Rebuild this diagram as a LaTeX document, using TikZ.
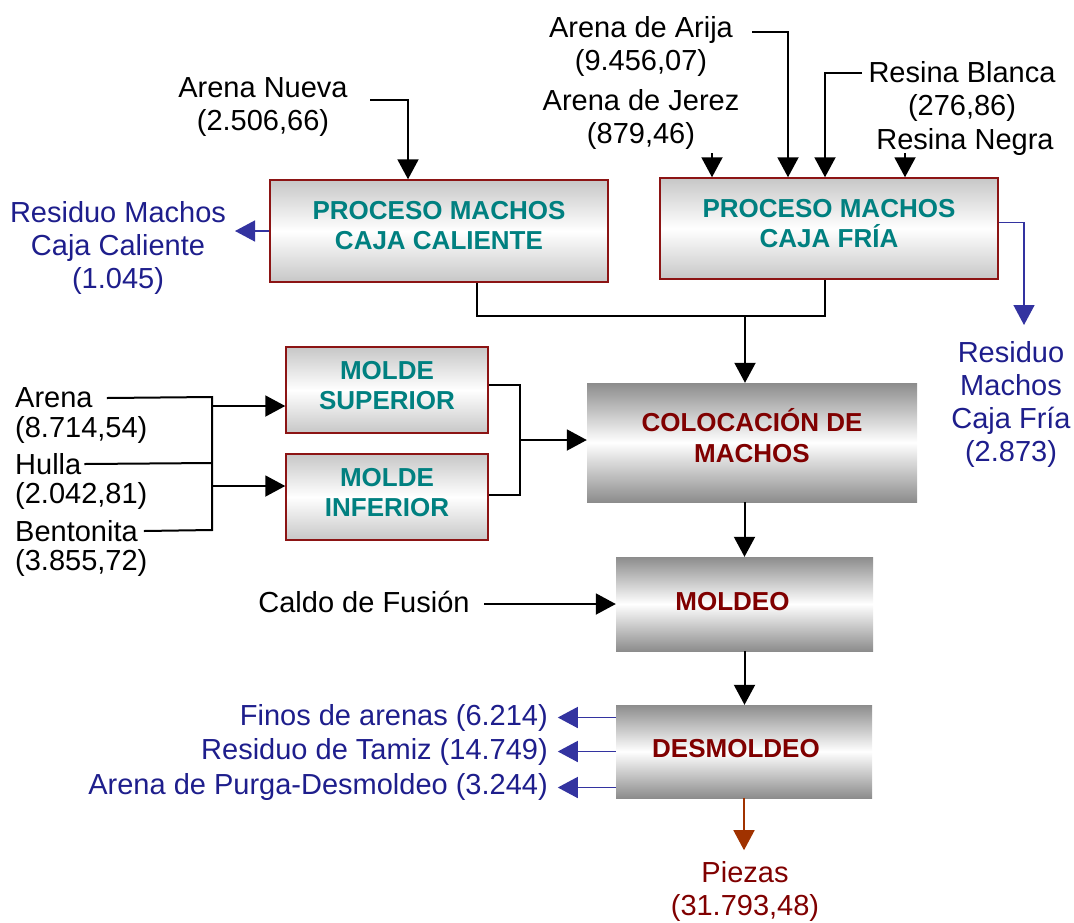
\documentclass[tikz,border=0pt]{standalone}
\usepackage{fontspec}
\setmainfont{Liberation Sans}
\usetikzlibrary{arrows.meta}
\definecolor{boxred}{RGB}{140,20,20}
\definecolor{tealtxt}{RGB}{0,128,128}
\definecolor{redtxt}{RGB}{128,0,0}
\definecolor{bluetxt}{RGB}{30,30,140}
\definecolor{bluearr}{RGB}{51,51,160}
\definecolor{brownarr}{RGB}{160,50,0}
\tikzset{
  lbl/.style={inner sep=0pt, align=center, font=\fontsize{29}{33}\selectfont},
  bluelbl/.style={lbl, text=bluetxt},
  procbox/.style={draw=boxred, line width=1.5pt, inner sep=0pt,
    top color=black!22, bottom color=black!22, middle color=white},
  mainbox/.style={draw=none, inner sep=0pt,
    top color=black!45, bottom color=black!45, middle color=white},
  proctext/.style={inner sep=0pt, align=center, font=\bfseries\fontsize{26}{30}\selectfont, text=tealtxt},
  maintext/.style={inner sep=0pt, align=center, font=\bfseries\fontsize{26}{31}\selectfont, text=redtxt},
  tip/.style={-{Triangle[length=20pt,width=21pt]}},
  arr/.style={line width=2pt, tip},
  ln/.style={line width=2pt},
  barr/.style={line width=1.5pt, tip, color=bluearr},
  brarr/.style={line width=1.5pt, tip, color=brownarr},
}
\begin{document}
\begin{tikzpicture}[x=1pt,y=-1pt]
\useasboundingbox (0,0) rectangle (1074,922);
% boxes
\node[procbox, minimum width=338pt, minimum height=102pt] (cc) at (439,231) {};
\node[procbox, minimum width=338pt, minimum height=101pt] (cf) at (829,228.5) {};
\node[procbox, minimum width=202pt, minimum height=86pt] (ms) at (387,390) {};
\node[procbox, minimum width=202pt, minimum height=86pt] (mi) at (387,497) {};
\node[mainbox, minimum width=330pt, minimum height=119pt] (col) at (752,442.5) {};
\node[mainbox, minimum width=257pt, minimum height=94pt] (mol) at (744.5,604) {};
\node[mainbox, minimum width=256pt, minimum height=93pt] (des) at (744,751.5) {};
% box texts
\node[proctext] (ccT) at ([yshift=5pt]cc.center) {PROCESO MACHOS\\CAJA CALIENTE};
\node[proctext] (cfT) at ([yshift=4.5pt]cf.center) {PROCESO MACHOS\\CAJA FRÍA};
\node[proctext] (msT) at ([yshift=4.5pt]ms.center) {MOLDE\\SUPERIOR};
\node[proctext] (miT) at ([yshift=4.5pt]mi.center) {MOLDE\\INFERIOR};
\node[maintext] (colT) at ([yshift=7pt]col.center) {COLOCACIÓN DE\\MACHOS};
\node[maintext] (molT) at ([xshift=-12pt,yshift=2.5pt]mol.center) {MOLDEO};
\node[maintext] (desT) at ([xshift=-8pt,yshift=3pt]des.center) {DESMOLDEO};
% labels
\node[lbl] (an) at (263,107) {Arena Nueva\\(2.506,66)};
\node[bluelbl] (rcc) at (118,248) {Residuo Machos\\Caja Caliente\\(1.045)};
\node[lbl] (aa) at (641,46) {Arena de Arija\\(9.456,07)};
\node[lbl] (aj) at (641,119) {Arena de Jerez\\(879,46)};
\node[lbl] (rb) at (962,91) {Resina Blanca\\(276,86)};
\node[lbl] (rn) at (965,142) {Resina Negra};
\node[bluelbl] (rcf) at (1011,404) {Residuo\\Machos\\Caja Fría\\(2.873)};
\node[lbl, anchor=west] (ar) at (15,398) {Arena};
\node[lbl, anchor=west] (arq) at (15,430) {(8.714,54)};
\node[lbl, anchor=west] (hu) at (15,464) {Hulla};
\node[lbl, anchor=west] (huq) at (15,496) {(2.042,81)};
\node[lbl, anchor=west] (be) at (15,531) {Bentonita};
\node[lbl, anchor=west] (beq) at (15,563) {(3.855,72)};
\node[lbl] (cd) at (364,602) {Caldo de Fusión};
\node[bluelbl, anchor=east] (fi) at (548,718) {Finos de arenas (6.214)};
\node[bluelbl, anchor=east] (rt) at (548,752) {Residuo de Tamiz (14.749)};
\node[bluelbl, anchor=east] (ap) at (548,787) {Arena de Purga-Desmoldeo (3.244)};
\node[lbl, text=redtxt] (pz) at (745,891) {Piezas\\(31.793,48)};
% coordinates
\coordinate (anS) at (370,100);
\coordinate (aaS) at (752,32);
\coordinate (rbS) at (862,73);
\coordinate (rccE) at (235,231);
\coordinate (rcfE) at (1024,325);
\coordinate (jTop) at (745,316);
\coordinate (jL1) at (212,406);
\coordinate (jL2) at (212,486);
\coordinate (jM) at (520,440);
\coordinate (cdS) at (484,604);
% connectors
\draw[arr] (anS) -| ([xshift=-31]cc.north);
\draw[barr] (cc.west) -- (rccE);
\draw[arr] (aaS) -| ([xshift=-41]cf.north);
\draw[arr] (rbS) -| ([xshift=-4]cf.north);
\draw[arr] ([xshift=-117,yshift=24]cf.north) -- ([xshift=-117]cf.north);
\draw[arr] ([xshift=76,yshift=24]cf.north) -- ([xshift=76]cf.north);
\draw[barr] ([yshift=6]cf.east) -| (rcfE);
\draw[ln] ([xshift=38]cc.south) |- (jTop) -| ([xshift=-4]cf.south);
\draw[arr] (jTop) -- (jTop |- col.north);
\draw[ln] ([xshift=14]ar.east) -- (212,397) -- (212,530) -- ([xshift=6]be.east);
\draw[ln] ([xshift=3]hu.east) -- (212,463);
\draw[arr] (jL1) -- (jL1 -| ms.west);
\draw[arr] (jL2) -- (jL2 -| mi.west);
\draw[ln] ([yshift=5]ms.east) -| (jM) |- ([yshift=2]mi.east);
\draw[arr] (jM) -- (jM -| col.west);
\draw[arr] (mol.north |- col.south) -- (mol.north);
\draw[arr] (cdS) -- (mol.west);
\draw[arr] (mol.south) -- (mol.south |- des.north);
\draw[barr] ([yshift=34]des.west) -- ([xshift=-58,yshift=34]des.west);
\draw[barr] (des.west) -- ([xshift=-58]des.west);
\draw[barr] ([yshift=-36]des.west) -- ([xshift=-58,yshift=-36]des.west);
\draw[brarr] (des.south) -- ++(0,52);
\end{tikzpicture}
\end{document}
